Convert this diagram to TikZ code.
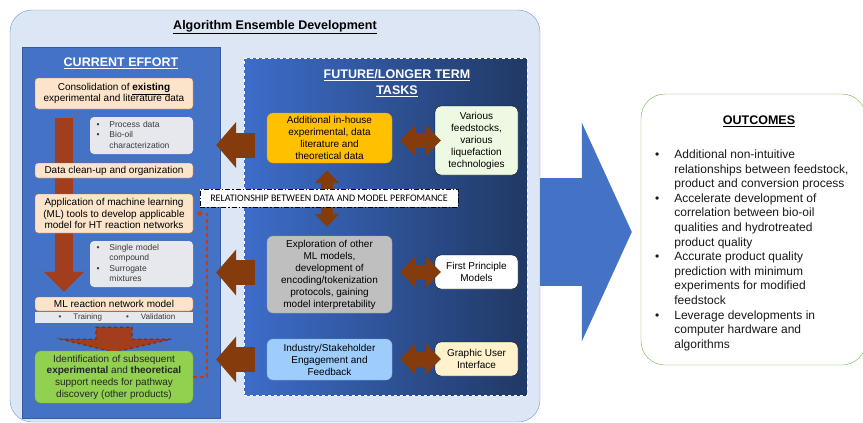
\documentclass[tikz,border=0pt]{standalone}
\usepackage{fontspec}
\setmainfont{Liberation Sans}
\newfontfamily\calibri{Carlito}
\usetikzlibrary{backgrounds,fit,calc,arrows.meta}

\definecolor{ensfill}{HTML}{DCE6F4}
\definecolor{ensedge}{HTML}{7096D2}
\definecolor{curblue}{HTML}{4472C4}
\definecolor{futleft}{HTML}{3D6DCA}
\definecolor{futright}{HTML}{203864}
\definecolor{stepfill}{HTML}{FCE4CB}
\definecolor{stepedge}{HTML}{B8694A}
\definecolor{notefill}{HTML}{E6E8EE}
\definecolor{notetext}{HTML}{3A3A3A}
\definecolor{rust}{HTML}{A23E1E}
\definecolor{loopred}{HTML}{B8401E}
\definecolor{identfill}{HTML}{92D050}
\definecolor{identedge}{HTML}{7DB43E}
\definecolor{orangefill}{HTML}{FFC000}
\definecolor{orangeedge}{HTML}{D89E00}
\definecolor{feedfill}{HTML}{EEF9E3}
\definecolor{greyfill}{HTML}{BFBFBF}
\definecolor{greyedge}{HTML}{A0A0A0}
\definecolor{skyfill}{HTML}{9FCDFB}
\definecolor{skyedge}{HTML}{7FA9D6}
\definecolor{creamfill}{HTML}{FFF2CC}
\definecolor{brownarr}{HTML}{843C0C}
\definecolor{outedge}{HTML}{70AD47}

\begin{document}
\begin{tikzpicture}[x=1pt,y=-1pt,thick]
    % `stepbox' is used for the steps of the current effort,
    % `note' for the grey bullet lists beside them.
    % `taskbox' and `sidebox' are the future task boxes.
    \tikzstyle{ensemble} = [fill=ensfill,draw=ensedge,thin,rounded corners=22pt]
    \tikzstyle{panel} = [fill=curblue,draw=curblue!80!black,thin]
    \tikzstyle{futpanel} = [left color=futleft,right color=futright,draw=white,thin,dashed]
    \tikzstyle{paneltitle} = [text=white,font=\fontsize{12.5}{16}\selectfont\bfseries,align=center]
    \tikzstyle{stepbox} = [draw=stepedge,fill=stepfill,rounded corners=3pt,minimum width=158pt,inner sep=1pt,align=center,font=\fontsize{10}{11.7}\selectfont]
    \tikzstyle{note} = [fill=notefill,rounded corners=4pt,text width=90pt,inner xsep=6.5pt,inner ysep=2pt,align=left,text=notetext,font=\fontsize{8.5}{10.5}\selectfont]
    \tikzstyle{taskbox} = [rounded corners=6pt,minimum width=125pt,inner sep=2pt,align=center,font=\fontsize{10}{12}\selectfont]
    \tikzstyle{sidebox} = [draw=black,fill=white,rounded corners=6pt,minimum width=83pt,inner sep=2pt,align=center,font=\fontsize{10}{12}\selectfont]
    \tikzstyle{pushback} = [draw=brownarr,line width=25pt,-{Triangle[length=20pt,width=45pt]}]
    \tikzstyle{swap} = [draw=brownarr,line width=15pt,{Triangle[length=15pt,width=30pt]}-{Triangle[length=15pt,width=30pt]}]
    \tikzstyle{flowdown} = [draw=rust,line width=18pt,-{Triangle[length=20pt,width=39pt]}]
    \tikzstyle{flatarrow} = [fill=rust,draw=rust!75!black,dashed,line width=1.2pt]
    \tikzstyle{feedback} = [draw=loopred,line width=1.6pt,dash pattern=on 4pt off 3pt,-{Triangle[length=5pt,width=6pt]}]
    %
    \useasboundingbox (0,0) rectangle (863,423);

    \begin{pgfonlayer}{background}
        % Draw the frame and the two panels.
        \node[ensemble,minimum width=530pt,minimum height=412pt] (ensemble) at (275,216) {};
        \node[panel,minimum width=198pt,minimum height=371pt] (current) at (121,232.5) {};
        \node[futpanel,minimum width=283pt,minimum height=337pt] (future) at (385.5,226.5) {};
    \end{pgfonlayer}

    \node[font=\fontsize{12.5}{15}\selectfont\bfseries] (enstitle) at (275,27) {\underline{Algorithm Ensemble Development}};
    \node[paneltitle] (curtitle) at (121,63) {\underline{CURRENT EFFORT}};
    \node[paneltitle] (futtitle) at (397,83) {\underline{FUTURE/LONGER TERM}\\\underline{TASKS}};

    % Current effort, top to bottom.
    \node[stepbox,minimum height=31pt] (cons) at (114,93.5) {Consolidation of \textbf{\underline{existing}}\\experimental and literature data};
    \node[note,minimum height=37pt] (procnote) at (141.5,135.5) {\begin{tabular}{@{}l@{\hspace{10pt}}l@{}}\textbullet&Process data\\\textbullet&Bio-oil\\&characterization\end{tabular}};
    \node[stepbox,minimum height=15pt] (clean) at (114,170.5) {Data clean-up and organization};
    \node[stepbox,minimum height=39pt] (apply) at (114,213.5) {Application of machine learning\\(ML) tools to develop applicable\\model for HT reaction networks};
    \node[note,minimum height=46pt] (mixnote) at (141.5,264) {\begin{tabular}{@{}l@{\hspace{10pt}}l@{}}\textbullet&Single model\\&compound\\\textbullet&Surrogate\\&mixtures\end{tabular}};
    \node[stepbox,minimum height=14pt] (mlnet) at (114,304) {ML reaction network model};
    \node[fill=notefill,minimum width=158pt,minimum height=11pt,inner sep=0pt,text=notetext,font=\fontsize{8}{9}\selectfont] (mlbar) at (114,317.5)
        {\hspace{6pt}\textbullet\hspace{12pt}Training\hspace{24pt}\textbullet\hspace{12pt}Validation\hfill};
    \node[stepbox,fill=identfill,draw=identedge,rounded corners=6pt,minimum height=52pt,text=black!85] (ident) at (114,377)
        {Identification of subsequent\\\textbf{experimental} and \textbf{theoretical}\\support needs for pathway\\discovery (other products)};

    \begin{pgfonlayer}{background}
        % Arrows that run behind the steps.
        \draw[flowdown] ($(cons.south)+(-50,9)$) -- ($(mlnet.north)+(-50,-5)$);
        \filldraw[flatarrow] ($(mlbar.south)+(-18,4)$) -- ($(mlbar.south)+(18,4)$) -- ($(mlbar.south)+(18,16)$)
            -- ($(mlbar.south)+(57,16)$) -- ($(mlbar.south)+(0,29)$) -- ($(mlbar.south)+(-53,16)$)
            -- ($(mlbar.south)+(-18,16)$) -- cycle;
    \end{pgfonlayer}
    \draw[feedback] (ident.east) -- ++(14,0) |- ($(apply.east)+(3,0)$);

    % Future / longer term tasks.
    \node[taskbox,fill=orangefill,draw=orangeedge,minimum height=50pt] (addl) at (329.5,138) {Additional in-house\\experimental, data\\literature and\\theoretical data};
    \node[taskbox,fill=greyfill,draw=greyedge,minimum height=77pt] (explore) at (329.5,274.5) {Exploration of other\\ML models,\\development of\\encoding/tokenization\\protocols, gaining\\model interpretability};
    \node[taskbox,fill=skyfill,draw=skyedge,minimum height=41pt] (industry) at (329.5,359.5) {Industry/Stakeholder\\Engagement and\\Feedback};
    \node[sidebox,fill=feedfill,minimum height=69pt] (feeds) at (476.5,140.5) {Various\\feedstocks,\\various\\liquefaction\\technologies};
    \node[sidebox,minimum height=34pt] (firstp) at (476.5,272) {First Principle\\Models};
    \node[sidebox,fill=creamfill,minimum height=34pt] (gui) at (476.5,359) {Graphic User\\Interface};

    \draw[swap] ($(addl.east |- feeds.west)+(8,0)$) -- ($(feeds.west)+(6,0)$);
    \draw[swap] ($(explore.east |- firstp.west)+(8,0)$) -- ($(firstp.west)+(6,0)$);
    \draw[swap] ($(industry.east |- gui.west)+(8,0)$) -- ($(gui.west)+(6,0)$);
    \draw[draw=brownarr,line width=12pt,{Triangle[length=13pt,width=24pt]}-{Triangle[length=13pt,width=24pt]}]
        ($(addl.south)+(-2.5,7)$) -- ($(explore.north)+(-2.5,-9)$);

    \node[draw=black,fill=white,thin,dash pattern=on 5pt off 2pt on 1.5pt off 2pt,minimum width=258pt,minimum height=18pt,inner sep=0pt,font=\calibri\fontsize{10}{12}\selectfont] (relation) at (329,198)
        {RELATIONSHIP BETWEEN DATA AND MODEL PERFOMANCE};

    % Feed the tasks back into the current effort.
    \draw[pushback] ($(future.west |- addl.west)+(11,7)$) -- ($(current.east |- addl.west)+(-4,7)$);
    \draw[pushback] ($(future.west |- explore.west)+(11,-2)$) -- ($(current.east |- explore.west)+(-4,-2)$);
    \draw[pushback] ($(future.west |- industry.west)+(11,0)$) -- ($(current.east |- industry.west)+(-4,0)$);

    % Outcomes.
    \node[draw=outedge,thin,fill=white,rounded corners=24pt,minimum width=225pt,minimum height=271pt] (outcomes) at (753.5,229.5) {};
    \draw[draw=curblue,line width=108pt,-{Triangle[length=50pt,width=217pt]}] (ensemble.east |- 0,232) -- ($(outcomes.west |- 0,232)+(-9,0)$);
    \node[font=\fontsize{12.5}{15}\selectfont\bfseries] (outtitle) at (759,121) {\underline{OUTCOMES}};
    \node[anchor=north west,inner sep=0pt,font=\fontsize{12}{14.6}\selectfont,text=black!90] (outlist) at (655,148)
        {\begin{tabular}{@{}l@{\hspace{15pt}}l@{}}
        \textbullet&Additional non-intuitive\\&relationships between feedstock,\\&product and conversion process\\
        \textbullet&Accelerate development of\\&correlation between bio-oil\\&qualities and hydrotreated\\&product quality\\
        \textbullet&Accurate product quality\\&prediction with minimum\\&experiments for modified\\&feedstock\\
        \textbullet&Leverage developments in\\&computer hardware and\\&algorithms
        \end{tabular}};
\end{tikzpicture}
\end{document}
